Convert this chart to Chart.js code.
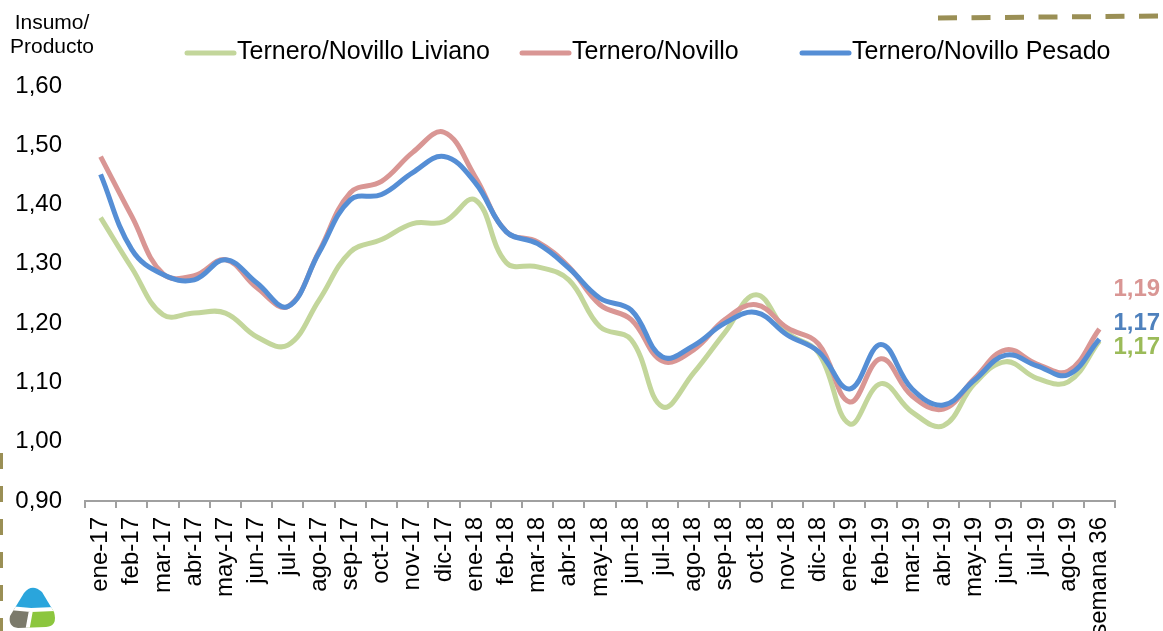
<!DOCTYPE html>
<html lang="es">
  <head>
    <meta charset="UTF-8" />
    <script src="https://cdn.jsdelivr.net/npm/chart.js"></script>
    <style>
      body {
        margin: 0;
        background: #ffffff;
      }
      #wrap {
        position: relative;
        width: 1163px;
        height: 631px;
      }
    </style>
  </head>
  <body>
    <div id="wrap">
      <canvas id="ratioChart"></canvas>
    </div>

    <script>
      // categorias (meses) del eje x
      const labels = [
        "ene-17", "feb-17", "mar-17", "abr-17", "may-17", "jun-17",
        "jul-17", "ago-17", "sep-17", "oct-17", "nov-17", "dic-17",
        "ene-18", "feb-18", "mar-18", "abr-18", "may-18", "jun-18",
        "jul-18", "ago-18", "sep-18", "oct-18", "nov-18", "dic-18",
        "ene-19", "feb-19", "mar-19", "abr-19", "may-19", "jun-19",
        "jul-19", "ago-19", "semana 36",
      ];

      const liviano = [
        1.378, 1.293, 1.214, 1.217, 1.217, 1.177, 1.163, 1.239, 1.32, 1.341,
        1.368, 1.371, 1.408, 1.302, 1.295, 1.273, 1.194, 1.172, 1.059, 1.116,
        1.184, 1.248, 1.184, 1.15, 1.03, 1.098, 1.05, 1.027, 1.098, 1.135,
        1.107, 1.101, 1.17,
      ];

      const novillo = [
        1.481, 1.38, 1.283, 1.28, 1.307, 1.26, 1.228, 1.321, 1.42, 1.439,
        1.488, 1.522, 1.447, 1.354, 1.337, 1.295, 1.231, 1.206, 1.136, 1.155,
        1.206, 1.231, 1.192, 1.165, 1.067, 1.14, 1.077, 1.055, 1.107, 1.155,
        1.131, 1.119, 1.19,
      ];

      const pesado = [
        1.451, 1.324, 1.282, 1.273, 1.307, 1.268, 1.228, 1.319, 1.408, 1.417,
        1.454, 1.481, 1.437, 1.354, 1.334, 1.293, 1.242, 1.222, 1.143, 1.162,
        1.2, 1.218, 1.18, 1.152, 1.089, 1.164, 1.089, 1.062, 1.104, 1.146,
        1.128, 1.113, 1.173,
      ];

      const seriesNames = [
        "Ternero/Novillo Liviano",
        "Ternero/Novillo",
        "Ternero/Novillo Pesado",
      ];
      const yMin = 0.9;
      const yMax = 1.6;
      const yStep = 0.1;

      const lineColors = ["#c3d69b", "#d99694", "#558ed5"];
      const endColors = ["#9bbb59", "#d99694", "#4f81bd"];
      const FONT = "'Liberation Sans', Arial, sans-serif";

      const fmt = (v) => v.toFixed(2).replace(".", ",");

      // leyenda, titulo del eje, etiquetas finales y adornos
      const decor = {
        id: "decor",
        beforeDraw(chart) {
          const c = chart.ctx;
          c.save();
          c.strokeStyle = "#9a8f55";
          c.lineWidth = 5;
          c.setLineDash([19, 14.5]);
          c.beginPath();
          c.moveTo(938, 18);
          c.lineTo(1163, 16);
          c.stroke();
          c.lineWidth = 3;
          c.setLineDash([16, 17]);
          c.beginPath();
          c.moveTo(1.5, 453);
          c.lineTo(1.5, 631);
          c.stroke();
          c.setLineDash([]);

          // logo
          c.save();
          c.beginPath();
          c.moveTo(24, 593);
          c.quadraticCurveTo(32, 583, 42, 592);
          c.lineTo(54, 612);
          c.quadraticCurveTo(58, 626, 46, 627);
          c.lineTo(18, 628);
          c.quadraticCurveTo(8, 627, 10, 616);
          c.closePath();
          c.clip();
          const cx = 31, cy = 610;
          c.fillStyle = "#2aa5dc";
          c.beginPath();
          c.moveTo(cx, cy);
          c.arc(cx, cy, 40, -Math.PI * 0.95, -Math.PI * 0.02);
          c.fill();
          c.fillStyle = "#8cc63e";
          c.beginPath();
          c.moveTo(cx, cy);
          c.arc(cx, cy, 40, -Math.PI * 0.02, Math.PI * 0.55);
          c.fill();
          c.fillStyle = "#7b7a6b";
          c.beginPath();
          c.moveTo(cx, cy);
          c.arc(cx, cy, 40, Math.PI * 0.55, Math.PI * 1.05);
          c.fill();
          c.strokeStyle = "#ffffff";
          c.lineWidth = 4;
          c.beginPath();
          c.moveTo(cx, cy);
          c.lineTo(8, 608);
          c.moveTo(cx, cy);
          c.lineTo(56, 609);
          c.moveTo(cx, cy);
          c.lineTo(27, 632);
          c.stroke();
          c.restore();

          // titulo del eje
          c.fillStyle = "#000";
          c.font = "21px " + FONT;
          c.textAlign = "center";
          c.textBaseline = "alphabetic";
          c.fillText("Insumo/", 52, 28.5);
          c.fillText("Producto", 52, 52.5);

          // leyenda
          const legendX = [185, 520, 800];
          c.font = "25px " + FONT;
          c.textAlign = "left";
          c.textBaseline = "middle";
          seriesNames.forEach((name, i) => {
            c.strokeStyle = lineColors[i];
            c.lineWidth = 5;
            c.lineCap = "round";
            c.beginPath();
            c.moveTo(legendX[i] + 2, 53);
            c.lineTo(legendX[i] + 49, 53);
            c.stroke();
            c.fillStyle = "#000";
            c.fillText(name, legendX[i] + 52, 52);
          });
          c.restore();
        },
        afterDatasetsDraw(chart) {
          const c = chart.ctx;
          const last = labels.length - 1;
          const x = chart.scales.x.getPixelForValue(last) + 14;
          const offsets = [6, -40, -16];
          const series = [liviano, novillo, pesado];
          c.save();
          c.font = "bold 24px " + FONT;
          c.textAlign = "left";
          c.textBaseline = "middle";
          series.forEach((s, i) => {
            const y = chart.scales.y.getPixelForValue(s[last]) + offsets[i];
            c.fillStyle = endColors[i];
            c.fillText(fmt(s[last]), x, y);
          });
          c.restore();
        },
      };

      const makeSet = (i, data, order) => ({
        label: seriesNames[i],
        data: data,
        borderColor: lineColors[i],
        borderWidth: 5,
        pointRadius: 0,
        tension: 0.4,
        fill: false,
        order: order,
      });

      const ctx = document.getElementById("ratioChart").getContext("2d");
      const ratioChart = new Chart(ctx, {
        type: "line",
        data: {
          labels: labels,
          datasets: [
            makeSet(0, liviano, 2),
            makeSet(1, novillo, 1),
            makeSet(2, pesado, 0),
          ],
        },
        options: {
          responsive: true,
          maintainAspectRatio: false,
          animation: false,
          layout: {
            padding: { top: 86, right: 48, left: 0, bottom: 0 },
          },
          plugins: {
            legend: { display: false },
            tooltip: { enabled: false },
          },
          scales: {
            x: {
              offset: true,
              afterFit: (scale) => {
                scale.height = 130;
              },
              grid: {
                display: true,
                drawOnChartArea: false,
                drawTicks: true,
                tickLength: 7,
                offset: true,
                color: "#a0a0a0",
                lineWidth: 2,
              },
              border: { display: true, color: "#a0a0a0", width: 2 },
              ticks: {
                autoSkip: false,
                maxRotation: 90,
                minRotation: 90,
                padding: 9,
                color: "#000",
                font: { family: FONT, size: 24 },
              },
            },
            y: {
              min: yMin,
              max: yMax,
              afterFit: (scale) => {
                scale.width = 85;
              },
              grid: { display: false, drawTicks: false },
              border: { display: false },
              ticks: {
                stepSize: yStep,
                padding: 23,
                color: "#000",
                font: { family: FONT, size: 24 },
                callback: (v) => fmt(v),
              },
            },
          },
        },
        plugins: [decor],
      });
    </script>
  </body>
</html>
